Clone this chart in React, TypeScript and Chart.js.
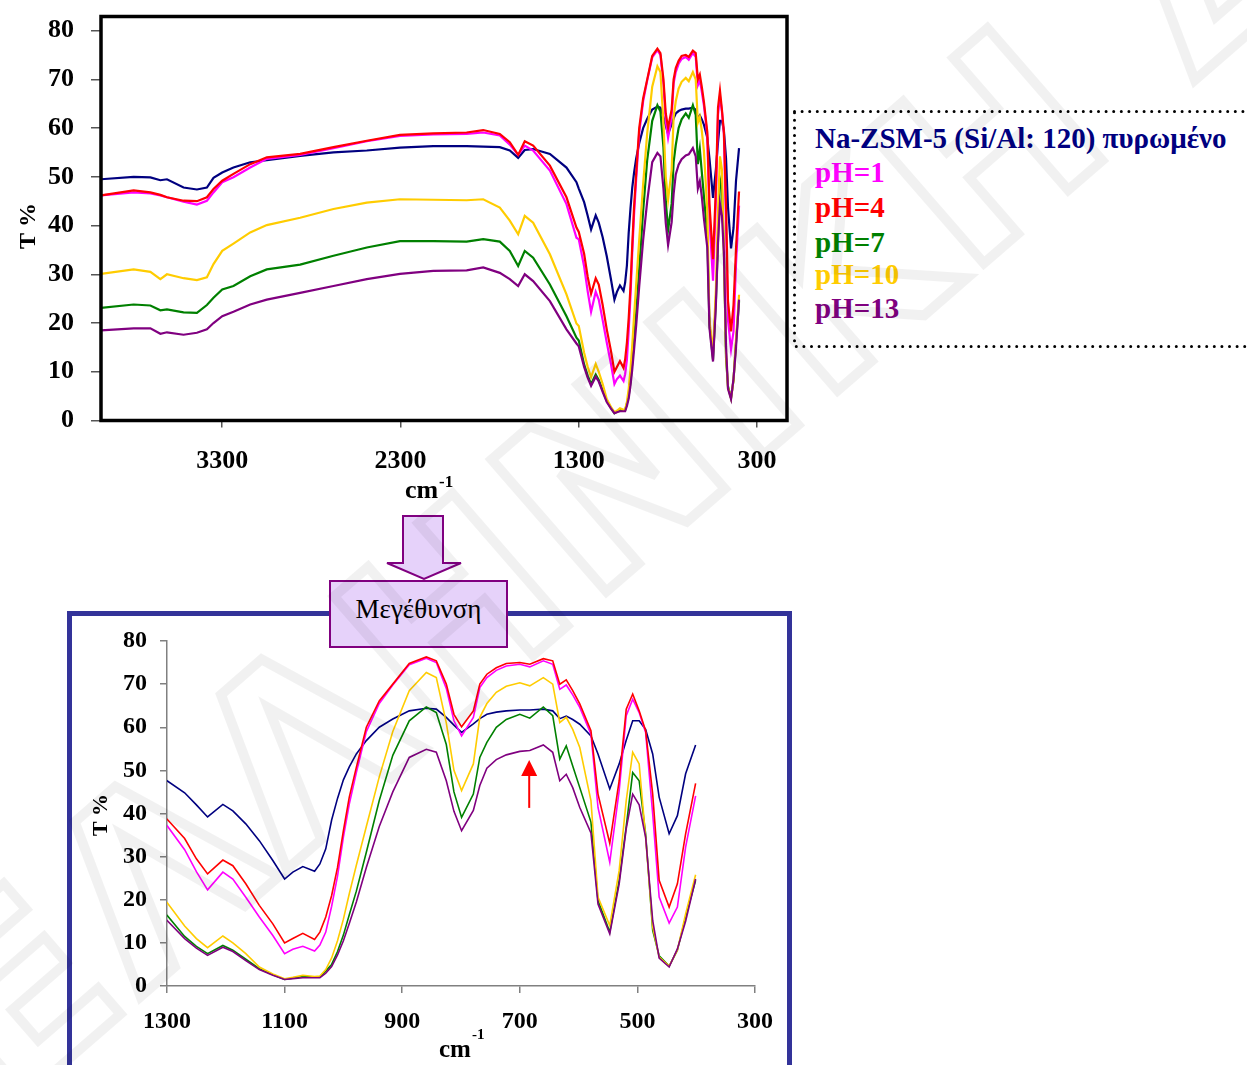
import React, { useEffect, useRef } from "react";
import { Chart, registerables } from "chart.js";

Chart.register(...registerables);

// ---------------- data ----------------
const WAVENUMBERS = [
  3980, 3797, 3703, 3647, 3610, 3517, 3442, 3386, 3349, 3300,
  3237, 3143, 3050, 2863, 2676, 2489, 2303, 2116, 1929, 1836,
  1743, 1687, 1640, 1603, 1556, 1462, 1369, 1313,
  1300, 1270, 1250, 1231, 1205, 1188, 1166, 1143, 1120, 1100,
  1086, 1069, 1049, 1040, 1030, 1020, 1010, 1000, 990, 978,
  961, 939, 916, 888, 859, 842, 825, 812, 799, 779,
  768, 756, 740, 723, 700, 683, 660, 644, 632, 621,
  610, 598, 579, 567, 547, 531, 519, 508, 497, 486,
  474, 463, 446, 432, 418, 401,
];

const NA_ZSM5 = [
  49.5, 50.0, 49.9, 49.3, 49.5, 47.8, 47.4, 47.8, 49.8, 50.9,
  51.9, 53.0, 53.4, 54.3, 55.0, 55.4, 56.0, 56.3, 56.3, 56.2,
  56.1, 55.4, 53.9, 55.5, 55.7, 54.7, 51.9, 48.9,
  47.6, 44.8, 42.0, 39.2, 42.1, 40.6, 37.6, 33.7, 29.1, 24.8,
  26.4, 27.7, 26.6, 28.3, 31.8, 38.5, 43.5, 47.8, 50.8, 53.8,
  56.9, 60.0, 61.9, 63.8, 64.4, 64.2, 62.3, 60.5, 58.8, 60.8,
  62.0, 63.0, 63.5, 63.8, 64.0, 64.0, 64.2, 63.8, 62.0, 62.6,
  61.8, 60.7, 58.0, 53.8, 45.7, 51.5, 57.0, 61.5, 61.5, 59.5,
  53.8, 43.8, 35.3, 39.5, 49.2, 55.9,
];

const PH_1 = [
  46.2, 46.8, 46.6, 46.2, 45.8, 44.9, 44.3, 45.1, 46.8, 48.9,
  49.9, 51.9, 53.7, 54.5, 55.9, 57.3, 58.4, 58.7, 58.8, 59.1,
  58.5, 56.6, 54.5, 56.4, 55.4, 51.3, 44.4, 37.5,
  37.2, 31.6, 26.5, 22.3, 26.4, 24.8, 20.6, 16.0, 11.7, 7.5,
  8.5, 9.2, 8.1, 9.5, 12.5, 18.5, 25.5, 34.5, 42.2, 49.5,
  59.0, 65.5, 69.8, 74.5, 76.0, 75.0, 69.0, 61.5, 58.0, 62.3,
  69.2, 71.5, 73.2, 74.2, 74.6, 74.0, 75.4, 74.6, 68.8, 69.8,
  67.5, 64.6, 58.4, 41.4, 28.7, 45.3, 62.7, 66.5, 63.4, 58.8,
  39.9, 20.6, 14.6, 18.3, 32.2, 44.1,
];

const PH_4 = [
  46.2, 47.2, 46.8, 46.3, 45.8, 45.1, 45.0, 45.8, 47.5, 49.2,
  50.6, 52.6, 54.0, 54.7, 56.1, 57.4, 58.6, 58.9, 59.1, 59.6,
  58.8, 57.1, 54.5, 57.3, 56.4, 52.3, 45.8, 39.6,
  38.7, 34.2, 29.5, 26.0, 29.2, 27.9, 23.7, 18.7, 14.4, 10.0,
  11.0, 12.2, 10.8, 12.5, 16.0, 21.0, 27.5, 36.0, 43.8, 50.7,
  60.0, 66.1, 70.0, 74.8, 76.3, 75.4, 70.0, 63.0, 60.1, 63.8,
  70.0, 72.3, 73.8, 74.8, 75.0, 74.6, 75.9, 75.4, 70.0, 71.0,
  68.5, 65.4, 59.2, 44.5, 33.1, 47.6, 64.2, 67.7, 63.8, 59.2,
  44.5, 24.5, 18.3, 23.7, 35.3, 47.0,
];

const PH_7 = [
  23.1, 23.8, 23.6, 22.6, 22.8, 22.2, 22.1, 23.7, 25.2, 26.9,
  27.6, 29.6, 31.0, 32.0, 33.8, 35.5, 36.8, 36.8, 36.7, 37.2,
  36.7, 34.8, 31.7, 34.8, 33.4, 27.9, 21.4, 17.0,
  16.4, 11.5, 9.2, 7.5, 9.4, 8.3, 6.2, 4.0, 2.6, 1.5,
  1.8, 2.2, 2.1, 2.1, 3.5, 5.0, 8.0, 11.8, 16.5, 22.0,
  31.0, 43.0, 53.5, 61.5, 64.7, 63.4, 56.0, 45.0, 39.1, 44.5,
  53.0, 56.5, 60.0, 61.8, 63.0, 62.1, 64.7, 62.7, 52.6, 55.7,
  51.0, 46.0, 38.0, 19.8, 12.5, 24.5, 37.0, 49.5, 47.6, 35.3,
  12.9, 7.0, 4.6, 8.3, 16.0, 24.5,
];

const PH_10 = [
  30.1, 31.0, 30.5, 29.0, 30.0, 29.2, 28.8, 29.4, 32.1, 34.8,
  36.3, 38.6, 40.1, 41.6, 43.4, 44.7, 45.4, 45.3, 45.2, 45.4,
  43.7, 41.0, 38.2, 42.0, 40.6, 34.1, 25.9, 19.9,
  19.4, 13.9, 11.0, 8.9, 11.6, 10.0, 7.5, 4.4, 2.8, 1.7,
  2.0, 2.5, 2.2, 2.3, 3.8, 6.5, 10.5, 15.5, 21.4, 28.0,
  37.0, 48.5, 59.0, 68.5, 72.7, 71.5, 61.0, 50.0, 45.3, 51.5,
  62.3, 65.5, 68.1, 69.5, 70.3, 69.6, 71.5, 70.0, 61.1, 62.3,
  59.5, 55.3, 43.0, 20.6, 14.0, 26.8, 43.0, 54.2, 51.5, 34.5,
  13.7, 6.7, 4.6, 8.3, 16.7, 25.8,
];

const PH_13 = [
  18.5, 18.9, 18.9, 17.8, 18.1, 17.6, 18.0, 18.7, 20.0, 21.4,
  22.3, 23.8, 24.8, 26.2, 27.6, 29.0, 30.1, 30.7, 30.8, 31.4,
  30.3, 29.0, 27.6, 30.0, 28.6, 24.5, 18.7, 15.8,
  15.2, 11.0, 8.8, 7.1, 9.0, 8.0, 5.9, 3.8, 2.5, 1.5,
  1.7, 1.9, 1.9, 1.9, 3.0, 4.5, 7.2, 10.5, 14.5, 19.5,
  27.5, 37.0, 45.0, 53.0, 54.9, 54.2, 47.6, 40.5, 36.0, 40.7,
  46.5, 50.5, 52.5, 53.6, 54.4, 54.6, 55.9, 54.2, 47.6, 49.1,
  46.0, 41.4, 35.5, 19.0, 12.1, 23.7, 36.5, 44.5, 42.0, 34.5,
  15.2, 6.5, 4.4, 8.6, 15.0, 24.8,
];

const SERIES = [NA_ZSM5, PH_1, PH_4, PH_7, PH_10, PH_13];
const SERIES_NAMES = [
  "Na-ZSM-5 (Si/Al: 120) πυρωμένο",
  "pH=1",
  "pH=4",
  "pH=7",
  "pH=10",
  "pH=13",
];
const SERIES_COLORS = ["#000080", "#FF00FF", "#FF0000", "#008000", "#FFCC00", "#800080"];

const T_TICKS = [0, 10, 20, 30, 40, 50, 60, 70, 80];
const FULL_X_TICKS = [3300, 2300, 1300, 300];
const ZOOM_X_TICKS = [1300, 1100, 900, 700, 500, 300];
const Y_TITLE = "T %";
const X_TITLE = "cm";
const X_TITLE_SUP = "-1";
const ZOOM_LABEL = "Μεγέθυνση";
const WATERMARK = "ΕΛΛΗΝΙΚΗ ΔΗΜΟΚΡΑΤΙΑ";
const ARROW_WAVENUMBER = 684;
const ARROW_T_FROM = 41.3;
const ARROW_T_TO = 52.4;

const SERIF = '"Liberation Serif", "Times New Roman", serif';

type ChartSetup = {
  xMin: number;
  xMax: number;
  yMax: number;
  xTicks: number[];
  padding: { left: number; top: number; right: number; bottom: number };
  yAxisWidth: number;
  xAxisHeight: number;
  fontSize: number;
  yTickLen: number;
  yPad: number;
  xTickLen: number;
  xPad: number;
  lineWidth: number;
  box: boolean;
  axisColor: string;
  titles: {
    cmX: number; cmY: number; cmSize: number;
    supX: number; supY: number; supSize: number;
    tX: number; tY: number; tSize: number;
  };
  arrow: boolean;
};

function buildConfig(s: ChartSetup): any {
  const datasets = SERIES.map((vals, i) => ({
    label: SERIES_NAMES[i],
    data: WAVENUMBERS.map((x, j) => ({ x, y: vals[j] })),
    borderColor: SERIES_COLORS[i],
    backgroundColor: SERIES_COLORS[i],
    borderWidth: s.lineWidth,
    pointRadius: 0,
    pointHoverRadius: 0,
    tension: 0,
    fill: false,
    order: SERIES.length - i,
  }));

  const decorPlugin = {
    id: "decor",
    afterDraw(chart: any) {
      const { ctx, chartArea: a } = chart;
      ctx.save();
      if (s.box) {
        ctx.strokeStyle = "#000";
        ctx.lineWidth = 3.5;
        ctx.strokeRect(a.left, a.top, a.right - a.left, a.bottom - a.top);
      }
      const t = s.titles;
      ctx.fillStyle = "#000";
      ctx.textAlign = "left";
      ctx.textBaseline = "alphabetic";
      ctx.font = `bold ${t.cmSize}px ${SERIF}`;
      ctx.fillText(X_TITLE, t.cmX, t.cmY);
      ctx.font = `bold ${t.supSize}px ${SERIF}`;
      ctx.fillText(X_TITLE_SUP, t.supX, t.supY);
      ctx.save();
      ctx.translate(t.tX, t.tY);
      ctx.rotate(-Math.PI / 2);
      ctx.textAlign = "center";
      ctx.textBaseline = "middle";
      ctx.font = `bold ${t.tSize}px ${SERIF}`;
      ctx.fillText(Y_TITLE, 0, 0);
      ctx.restore();
      if (s.arrow) {
        const xs = chart.scales.x;
        const ys = chart.scales.y;
        const ax = xs.getPixelForValue(ARROW_WAVENUMBER);
        const y0 = ys.getPixelForValue(ARROW_T_FROM);
        const y1 = ys.getPixelForValue(ARROW_T_TO);
        ctx.strokeStyle = "#FF0000";
        ctx.fillStyle = "#FF0000";
        ctx.lineWidth = 2;
        ctx.beginPath();
        ctx.moveTo(ax, y0);
        ctx.lineTo(ax, y1 + 12);
        ctx.stroke();
        ctx.beginPath();
        ctx.moveTo(ax, y1);
        ctx.lineTo(ax - 8, y1 + 16);
        ctx.lineTo(ax + 8, y1 + 16);
        ctx.closePath();
        ctx.fill();
      }
      ctx.restore();
    },
  };

  const tickFont = { family: SERIF, size: s.fontSize, weight: "bold" as const };

  return {
    type: "line",
    data: { datasets },
    options: {
      animation: false,
      responsive: false,
      maintainAspectRatio: false,
      events: [],
      layout: { padding: s.padding },
      plugins: { legend: { display: false }, tooltip: { enabled: false }, title: { display: false } },
      scales: {
        x: {
          type: "linear",
          reverse: true,
          min: s.xMin,
          max: s.xMax,
          afterBuildTicks: (axis: any) => {
            axis.ticks = s.xTicks.map((v) => ({ value: v }));
          },
          afterFit: (axis: any) => {
            axis.height = s.xAxisHeight;
            axis.paddingLeft = 0;
            axis.paddingRight = 0;
          },
          grid: {
            drawOnChartArea: false,
            drawTicks: true,
            tickLength: s.xTickLen,
            color: s.axisColor,
            lineWidth: 1.5,
          },
          border: { display: !s.box, color: s.axisColor, width: 1.5 },
          ticks: {
            font: tickFont,
            color: "#000",
            padding: s.xPad,
            maxRotation: 0,
            autoSkip: false,
            callback: (v: any) => String(v),
          },
        },
        y: {
          type: "linear",
          min: 0,
          max: s.yMax,
          afterBuildTicks: (axis: any) => {
            axis.ticks = T_TICKS.map((v) => ({ value: v }));
          },
          afterFit: (axis: any) => {
            axis.width = s.yAxisWidth;
            axis.paddingTop = 0;
            axis.paddingBottom = 0;
          },
          grid: {
            drawOnChartArea: false,
            drawTicks: true,
            tickLength: s.yTickLen,
            color: s.axisColor,
            lineWidth: 1.5,
          },
          border: { display: !s.box, color: s.axisColor, width: 1.5 },
          ticks: {
            font: tickFont,
            color: "#000",
            padding: s.yPad,
            autoSkip: false,
            callback: (v: any) => String(v),
          },
        },
      },
    },
    plugins: [decorPlugin],
  };
}

const TOP_SETUP: ChartSetup = {
  xMin: 132,
  xMax: 3980,
  yMax: 82.9,
  xTicks: FULL_X_TICKS,
  padding: { left: 0, top: 16.5, right: 13, bottom: 29.5 },
  yAxisWidth: 101,
  xAxisHeight: 60,
  fontSize: 26,
  yTickLen: 10,
  yPad: 17,
  xTickLen: 7,
  xPad: 18,
  lineWidth: 2.2,
  box: true,
  axisColor: "#555555",
  titles: {
    cmX: 405, cmY: 498, cmSize: 26,
    supX: 439, supY: 487, supSize: 17,
    tX: 29, tY: 226, tSize: 24,
  },
  arrow: false,
};

const ZOOM_SETUP: ChartSetup = {
  xMin: 300,
  xMax: 1300,
  yMax: 80,
  xTicks: ZOOM_X_TICKS,
  padding: { left: 0, top: 41, right: 45, bottom: 19 },
  yAxisWidth: 167,
  xAxisHeight: 60,
  fontSize: 24,
  yTickLen: 7,
  yPad: 13,
  xTickLen: 7,
  xPad: 14.5,
  lineWidth: 1.6,
  box: false,
  axisColor: "#808080",
  titles: {
    cmX: 439, cmY: 457, cmSize: 25,
    supX: 472, supY: 439, supSize: 15,
    tX: 101, tY: 215, tSize: 22,
  },
  arrow: true,
};

const LEGEND_BASELINES = [148, 182, 217, 252, 284, 318];

export default function App() {
  const topRef = useRef<HTMLCanvasElement | null>(null);
  const zoomRef = useRef<HTMLCanvasElement | null>(null);

  useEffect(() => {
    const c1 = new Chart(topRef.current as HTMLCanvasElement, buildConfig(TOP_SETUP));
    const c2 = new Chart(zoomRef.current as HTMLCanvasElement, buildConfig(ZOOM_SETUP));
    return () => {
      c1.destroy();
      c2.destroy();
    };
  }, []);

  return (
    <div
      style={{
        position: "absolute",
        left: 0,
        top: 0,
        width: 1247,
        height: 1065,
        overflow: "hidden",
        background: "#ffffff",
      }}
    >
      <svg
        width={1247}
        height={1065}
        style={{ position: "absolute", left: 0, top: 0 }}
      >
        {/* blue frame of the enlarged view */}
        <rect x={69.5} y={613.5} width={720} height={600} fill="none" stroke="#333399" strokeWidth={5} />
        {/* arrow */}
        <polygon
          points="403,516 443,516 443,563 461,563 424,579 387,563 403,563"
          fill="#E6D2FA"
          stroke="#800080"
          strokeWidth={2}
        />
        {/* label box */}
        <rect x={330} y={581} width={177} height={66} fill="#E6D2FA" stroke="#800080" strokeWidth={2} />
        <text
          x={418.5}
          y={618}
          textAnchor="middle"
          fontFamily={SERIF}
          fontSize={27}
          fill="#000"
        >
          {ZOOM_LABEL}
        </text>
        {/* legend box */}
        <rect
          x={794.5}
          y={111.5}
          width={480}
          height={235}
          fill="none"
          stroke="#000"
          strokeWidth={3}
          strokeDasharray="0 7.6"
          strokeLinecap="round"
        />
        {SERIES_NAMES.map((name, i) => (
          <text
            key={name}
            x={815}
            y={LEGEND_BASELINES[i]}
            fontFamily={SERIF}
            fontWeight="bold"
            fontSize={29}
            fill={SERIES_COLORS[i]}
          >
            {name}
          </text>
        ))}
      </svg>
      <canvas
        ref={topRef}
        width={800}
        height={510}
        style={{ position: "absolute", left: 0, top: 0, width: 800, height: 510 }}
      />
      <canvas
        ref={zoomRef}
        width={800}
        height={465}
        style={{ position: "absolute", left: 0, top: 600, width: 800, height: 465 }}
      />
      <svg
        width={1247}
        height={1065}
        style={{ position: "absolute", left: 0, top: 0, pointerEvents: "none" }}
      >
        <text
          x={10}
          y={1110}
          transform="rotate(-41 10 1110)"
          fontFamily='"DejaVu Sans", sans-serif'
          fontWeight="bold"
          fontSize={240}
          fill="none"
          stroke="rgba(0,0,0,0.055)"
          strokeWidth={10}
          letterSpacing={8}
        >
          {WATERMARK}
        </text>
      </svg>
    </div>
  );
}
